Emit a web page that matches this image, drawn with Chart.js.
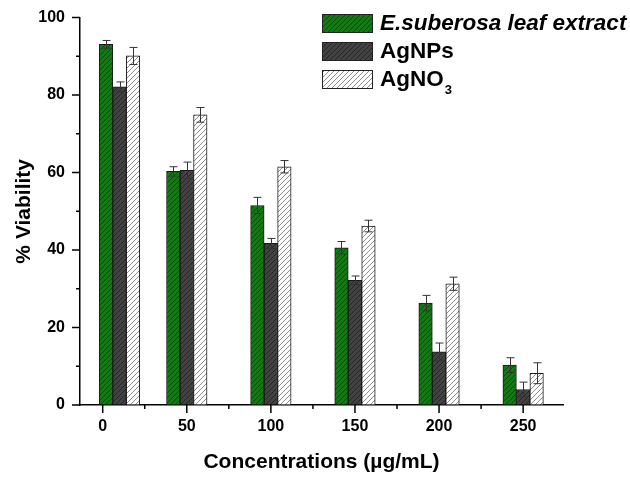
<!DOCTYPE html>
<html>
<head>
<meta charset="utf-8">
<script src="https://cdn.jsdelivr.net/npm/chart.js@4/dist/chart.umd.min.js"></script>
<style>
html,body{margin:0;padding:0;background:#fff;}
#wrap{width:630px;height:477px;position:relative;}
</style>
</head>
<body>
<div id="wrap"><canvas id="c" width="630" height="477"></canvas></div>
<script>
// group positions on the concentration axis (the control group is drawn slightly right of 0 in the original)
const groupPositions = [10, 50, 100, 150, 200, 250];
const xTickValues = [0, 50, 100, 150, 200, 250];
const extractVals = [93.1, 60.3, 51.5, 40.6, 26.3, 10.3];
const extractErr  = [1.0, 1.2, 2.1, 1.6, 2.0, 1.9];
const agnpsVals   = [82.1, 60.6, 41.7, 32.2, 13.7, 4.0];
const agnpsErr    = [1.3, 2.1, 1.3, 1.1, 2.3, 1.9];
const agno3Vals   = [90.1, 74.9, 61.5, 46.2, 31.3, 8.2];
const agno3Err    = [2.2, 1.9, 1.6, 1.5, 1.7, 2.7];
const yTicks = [0, 20, 40, 60, 80, 100];
const seriesNames = ['E.suberosa leaf extract', 'AgNPs', 'AgNO'];

const FONT = "'Liberation Sans', Arial, sans-serif";

function hatch(bg, fg, lw) {
  const s = 5;
  const cv = document.createElement('canvas');
  cv.width = s; cv.height = s;
  const g = cv.getContext('2d');
  g.fillStyle = bg; g.fillRect(0, 0, s, s);
  g.strokeStyle = fg; g.lineWidth = lw;
  g.beginPath();
  g.moveTo(-1, s + 1); g.lineTo(s + 1, -1);
  g.moveTo(-1, 1); g.lineTo(1, -1);
  g.moveTo(s - 1, s + 1); g.lineTo(s + 1, s - 1);
  g.stroke();
  return g.createPattern(cv, 'repeat');
}
const pGreen = hatch('#137a13', '#0b4d0b', 1);
const pDark = hatch('#424242', '#262626', 1);
const pWhite = hatch('#ffffff', '#8c8c8c', 1);
const fills = [pGreen, pDark, pWhite];

const toXY = arr => arr.map((v, i) => ({x: groupPositions[i], y: v}));
const errs = [extractErr, agnpsErr, agno3Err];

const errorBars = {
  id: 'errorBars',
  afterDatasetsDraw(chart) {
    const ctx = chart.ctx;
    const ys = chart.scales.y;
    ctx.save();
    ctx.strokeStyle = '#333';
    ctx.lineWidth = 1;
    chart.data.datasets.forEach((ds, di) => {
      const meta = chart.getDatasetMeta(di);
      meta.data.forEach((bar, i) => {
        const v = ds.data[i].y, e = errs[di][i];
        const x = Math.round(bar.x) + 0.5;
        const y1 = ys.getPixelForValue(v + e), y2 = ys.getPixelForValue(v - e);
        ctx.beginPath();
        ctx.moveTo(x, y1); ctx.lineTo(x, y2);
        ctx.moveTo(x - 4, y1); ctx.lineTo(x + 4, y1);
        ctx.moveTo(x - 4, y2); ctx.lineTo(x + 4, y2);
        ctx.stroke();
      });
    });
    ctx.restore();
  }
};

const axisTicks = {
  id: 'axisTicks',
  afterDraw(chart) {
    const ctx = chart.ctx;
    const xs = chart.scales.x, ys = chart.scales.y;
    const a = chart.chartArea;
    ctx.save();
    ctx.strokeStyle = '#000';
    ctx.lineWidth = 1.5;
    ctx.beginPath();
    for (let v = 0; v <= 250; v += 25) {
      const px = xs.getPixelForValue(v);
      const len = (v % 50 === 0) ? 8 : 4;
      ctx.moveTo(px, a.bottom); ctx.lineTo(px, a.bottom + len);
    }
    for (let v = 0; v <= 100; v += 10) {
      const py = ys.getPixelForValue(v);
      const len = (v % 20 === 0) ? 8 : 4;
      ctx.moveTo(a.left, py); ctx.lineTo(a.left - len, py);
    }
    ctx.stroke();
    ctx.restore();
  }
};

const legendPlugin = {
  id: 'customLegend',
  afterDraw(chart) {
    const ctx = chart.ctx;
    ctx.save();
    const rows = [14, 42, 70];
    rows.forEach((top, i) => {
      ctx.fillStyle = fills[i];
      ctx.fillRect(322, top, 51, 19);
      ctx.strokeStyle = '#222';
      ctx.lineWidth = 1;
      ctx.strokeRect(322.5, top + 0.5, 50, 18);
      ctx.fillStyle = '#000';
      ctx.textBaseline = 'middle';
      ctx.textAlign = 'left';
      ctx.font = (i === 0 ? 'italic ' : '') + 'bold 22.5px ' + FONT;
      ctx.fillText(seriesNames[i], 380, top + 10);
      if (i === 2) {
        const w = ctx.measureText(seriesNames[i]).width;
        ctx.font = 'bold 13px ' + FONT;
        ctx.fillText('3', 380 + w + 1, top + 20);
      }
    });
    ctx.restore();
  }
};

new Chart(document.getElementById('c'), {
  type: 'bar',
  data: {
    datasets: [
      {label: seriesNames[0], data: toXY(extractVals), backgroundColor: pGreen, borderColor: '#1a1a1a', borderWidth: 1},
      {label: seriesNames[1], data: toXY(agnpsVals), backgroundColor: pDark, borderColor: '#1a1a1a', borderWidth: 1},
      {label: 'AgNO3', data: toXY(agno3Vals), backgroundColor: pWhite, borderColor: '#1a1a1a', borderWidth: 1}
    ]
  },
  options: {
    responsive: false,
    animation: false,
    barThickness: 13.5,
    layout: {padding: {left: 0, top: 12, right: 67, bottom: 0}},
    plugins: {legend: {display: false}, tooltip: {enabled: false}},
    scales: {
      x: {
        type: 'linear',
        offset: false,
        min: -13.5,
        max: 273.7,
        afterBuildTicks: s => { s.ticks = xTickValues.map(v => ({value: v})); },
        afterFit: s => { s.height = 72; },
        grid: {display: true, offset: false, drawOnChartArea: false, drawTicks: true, tickLength: 7, tickColor: 'rgba(0,0,0,0)'},
        border: {display: true, color: '#000', width: 1.5},
        ticks: {autoSkip: false, maxRotation: 0, padding: 5, color: '#000', font: {family: FONT, size: 16, weight: 'bold'}},
        title: {display: true, text: 'Concentrations (µg/mL)', color: '#000', font: {family: FONT, size: 21, weight: 'bold'}, padding: {top: 0, bottom: 2}}
      },
      y: {
        min: 0,
        max: 100,
        afterBuildTicks: s => { s.ticks = yTicks.map(v => ({value: v})); },
        afterFit: s => { s.width = 80; },
        grid: {display: true, drawOnChartArea: false, drawTicks: true, tickLength: 7, tickColor: 'rgba(0,0,0,0)'},
        border: {display: true, color: '#000', width: 1.5},
        ticks: {padding: 8, color: '#000', font: {family: FONT, size: 16, weight: 'bold'}},
        title: {display: true, text: '% Viability', color: '#000', font: {family: FONT, size: 21, weight: 'bold'}, padding: {top: 12, bottom: 0}}
      }
    }
  },
  plugins: [errorBars, axisTicks, legendPlugin]
});
</script>
</body>
</html>
